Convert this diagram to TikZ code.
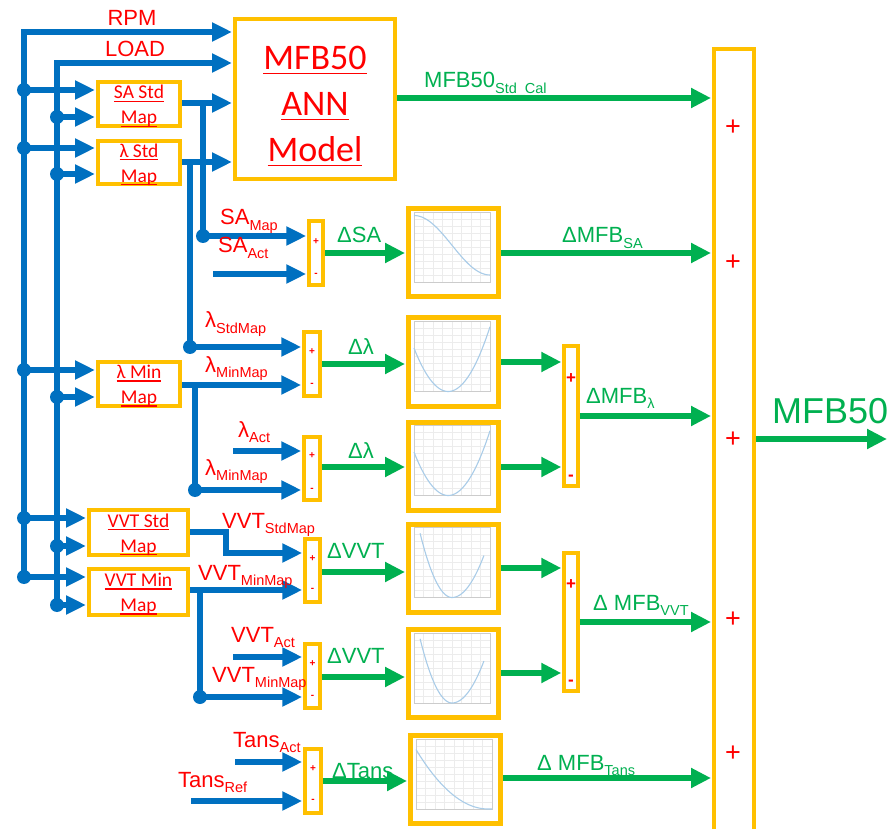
\documentclass[tikz,border=0pt]{standalone}
\usepackage{fontspec}
\setmainfont{Liberation Sans}
\newfontfamily\calfont{Carlito}
\usetikzlibrary{arrows.meta}
\definecolor{cblue}{HTML}{0070C0}
\definecolor{cgold}{HTML}{FFC000}
\definecolor{cred}{HTML}{FF0000}
\definecolor{cgreen}{HTML}{00B050}
\definecolor{ccurve}{HTML}{A9CCE8}
\newcommand\myul[2][1.8pt]{\vtop{\hbox{\raisebox{0pt}[\height][0pt]{#2}}\kern#1\hrule height 1.3pt}}
\newcommand\lsub[2]{#1\raisebox{-5.5pt}{\fontsize{14.5}{14.5}\selectfont #2}}
\newcommand\plotinside[3]{%
  \begin{scope}[shift={(#1.north west)}]
    \foreach \i in {0,...,8} \draw[gray!15,line width=0.5pt] ({8+9.5*\i},6) -- ({8+9.5*\i},76);
    \foreach \i in {0,...,10} \draw[gray!15,line width=0.5pt] (8,{6+7*\i}) -- (84,{6+7*\i});
    \draw[gray!40,line width=0.6pt] (8,6) rectangle (84,76);
    \draw[ccurve,line width=1.1pt] plot[domain=#2,samples=40,smooth] ({8+76*\x},{76-70*(#3)});
  \end{scope}}
\begin{document}
\begin{tikzpicture}[x=1pt,y=-1pt,
  blueline/.style={draw=cblue,line width=6pt},
  bluearr/.style={blueline,-{Triangle[length=20pt,width=18pt]},shorten >=1pt},
  greenarr/.style={draw=cgreen,line width=6pt,-{Triangle[length=20pt,width=19pt]},shorten >=1pt},
  jdot/.style={circle,fill=cblue,minimum size=14pt,inner sep=0pt},
  mapbox/.style={draw=cgold,line width=4pt,fill=white,inner sep=0pt},
  maptxt/.style={text=cred,align=center,inner sep=0pt,font=\calfont\fontsize{19.5}{25}\selectfont},
  sumbox/.style={draw=cgold,line width=3.5pt,fill=white,inner sep=0pt},
  plotbox/.style={draw=cgold,line width=5pt,fill=white,inner sep=0pt,minimum width=90pt,minimum height=88pt},
  rlbl/.style={text=cred,font=\fontsize{22}{22}\selectfont,inner sep=0pt,anchor=base west},
  glbl/.style={text=cgreen,font=\fontsize{22}{22}\selectfont,inner sep=0pt,anchor=base west},
  sgn/.style={text=cred,font=\bfseries\fontsize{10}{10}\selectfont,inner sep=0pt},
  midsgn/.style={text=cred,font=\bfseries\fontsize{17}{17}\selectfont,inner sep=0pt},
  bigsgn/.style={text=cred,font=\fontsize{27}{27}\selectfont,inner sep=0pt},
]
\useasboundingbox (0,0) rectangle (887,829);
\fill[white] (0,0) rectangle (887,829);

% ---------- boxes ----------
\node[mapbox,minimum width=160pt,minimum height=160pt] (ann) at (315,99) {};
\node[maptxt,font=\calfont\fontsize{36}{46}\selectfont] (anntxt) at (315,106) {\myul[3.5pt]{MFB50}\\\myul[3.5pt]{ANN}\\\myul[3.5pt]{Model}};
\node[mapbox,minimum width=82pt,minimum height=44pt] (sastd) at (139,104) {};
\node[maptxt] (sastdt) at (139,106) {\myul{SA Std}\\\myul{Map}};
\node[mapbox,minimum width=82pt,minimum height=43pt] (lstd) at (139,162.5) {};
\node[maptxt] (lstdt) at (139,164.5) {\myul{λ Std}\\\myul{Map}};
\node[mapbox,minimum width=82pt,minimum height=44pt] (lmin) at (139,384) {};
\node[maptxt] (lmint) at (139,386) {\myul{λ Min}\\\myul{Map}};
\node[mapbox,minimum width=99pt,minimum height=45pt] (vstd) at (138.5,532.5) {};
\node[maptxt] (vstdt) at (138.5,534.5) {\myul{VVT Std}\\\myul{Map}};
\node[mapbox,minimum width=99pt,minimum height=46pt] (vmin) at (138.5,592) {};
\node[maptxt] (vmint) at (138.5,594) {\myul{VVT Min}\\\myul{Map}};

\node[sumbox,minimum width=14pt,minimum height=64pt] (s1) at (316,253) {};
\node[sumbox,minimum width=16pt,minimum height=64pt] (s2) at (312,364) {};
\node[sumbox,minimum width=16pt,minimum height=63pt] (s3) at (312,468.5) {};
\node[sumbox,minimum width=14pt,minimum height=140pt] (s4) at (571,416) {};
\node[sumbox,minimum width=15pt,minimum height=63pt] (s5) at (312.5,570.5) {};
\node[sumbox,minimum width=15pt,minimum height=64pt] (s6) at (312.5,676) {};
\node[sumbox,minimum width=14pt,minimum height=138pt] (s7) at (571,622) {};
\node[sumbox,minimum width=16pt,minimum height=64pt] (s8) at (313,781) {};
\node[draw=cgold,line width=4pt,fill=white,inner sep=0pt,minimum width=40pt,minimum height=811pt] (big) at (734,454.5) {};

\node[plotbox] (p1) at (453.5,252.5) {};
\node[plotbox] (p2) at (453.5,362) {};
\node[plotbox] (p3) at (453.5,466) {};
\node[plotbox] (p4) at (453.5,568) {};
\node[plotbox] (p5) at (453.5,673.5) {};
\node[plotbox] (p6) at (455.5,779.5) {};
\plotinside{p1}{0:1}{0.1+0.85*(0.5+0.5*cos(180*\x))}
\plotinside{p2}{0:1}{3.06*(\x-0.45)*(\x-0.45)}
\plotinside{p3}{0:1}{3.06*(\x-0.45)*(\x-0.45)}
\plotinside{p4}{0.08:0.92}{(\x<0.5)*5.2*(\x-0.5)*(\x-0.5)+(\x>=0.5)*3.4*(\x-0.5)*(\x-0.5)}
\plotinside{p5}{0.08:0.92}{(\x<0.5)*5.2*(\x-0.5)*(\x-0.5)+(\x>=0.5)*3.4*(\x-0.5)*(\x-0.5)}
\plotinside{p6}{0:1}{0.85*max(0,1-\x/0.95)*max(0,1-\x/0.95)}

% ---------- bus lines ----------
\coordinate (b1top) at (24,32);
\coordinate (b1bot) at (24,578);
\coordinate (b2top) at (57,63);
\coordinate (b2bot) at (57,605);
\draw[bluearr] (b1bot) -- (b1top) -- (ann.west |- b1top);
\draw[bluearr] (b2bot) -- (b2top) -- (ann.west |- b2top);

\node[jdot] (j11) at (24,90) {};
\node[jdot] (j12) at (24,148) {};
\node[jdot] (j13) at (24,370) {};
\node[jdot] (j14) at (24,518) {};
\node[jdot] (j15) at (24,577) {};
\node[jdot] (j21) at (57,117) {};
\node[jdot] (j22) at (57,174) {};
\node[jdot] (j23) at (57,397) {};
\node[jdot] (j24) at (57,546) {};
\node[jdot] (j25) at (57,605) {};
\draw[bluearr] (j11.center) -- (sastd.west |- j11.center);
\draw[bluearr] (j21.center) -- (sastd.west |- j21.center);
\draw[bluearr] (j12.center) -- (lstd.west |- j12.center);
\draw[bluearr] (j22.center) -- (lstd.west |- j22.center);
\draw[bluearr] (j13.center) -- (lmin.west |- j13.center);
\draw[bluearr] (j23.center) -- (lmin.west |- j23.center);
\draw[bluearr] (j14.center) -- (vstd.west |- j14.center);
\draw[bluearr] (j24.center) -- (vstd.west |- j24.center);
\draw[bluearr] (j15.center) -- (vmin.west |- j15.center);
\draw[bluearr] (j25.center) -- (vmin.west |- j25.center);

% ---------- map outputs ----------
\draw[bluearr] (sastd.east |- 0,103) -- (ann.west |- 0,103);
\draw[bluearr] (lstd.east |- 0,162) -- (ann.west |- 0,162);
\coordinate (sat) at (203,103);
\node[jdot] (jsa) at (203,236) {};
\draw[blueline] (sat) -- (jsa.center);
\draw[bluearr] (jsa.center) -- (s1.west |- jsa.center);
\coordinate (sact) at (213,274);
\draw[bluearr] (sact) -- (s1.west |- sact);

\coordinate (lt) at (190,162);
\node[jdot] (jl1) at (190,347) {};
\draw[blueline] (lt) -- (jl1.center);
\draw[bluearr] (jl1.center) -- (s2.west |- jl1.center);
\draw[bluearr] (lmin.east |- 0,385) -- (s2.west |- 0,385);
\coordinate (lmt) at (195,385);
\node[jdot] (jl2) at (195,490) {};
\draw[blueline] (lmt) -- (jl2.center);
\draw[bluearr] (jl2.center) -- (s3.west |- jl2.center);
\coordinate (lact) at (233,451);
\draw[bluearr] (lact) -- (s3.west |- lact);

\coordinate (vk1) at (226,532);
\coordinate (vk2) at (226,553);
\draw[bluearr] (vstd.east |- vk1) -- (vk1) -- (vk2) -- (s5.west |- vk2);
\draw[bluearr] (vmin.east |- 0,590) -- (s5.west |- 0,590);
\coordinate (vmt) at (200,590);
\node[jdot] (jv2) at (200,697) {};
\draw[blueline] (vmt) -- (jv2.center);
\draw[bluearr] (jv2.center) -- (s6.west |- jv2.center);
\coordinate (vact) at (233,657);
\draw[bluearr] (vact) -- (s6.west |- vact);

\coordinate (tact) at (235,762);
\coordinate (tref) at (191,801);
\draw[bluearr] (tact) -- (s8.west |- tact);
\draw[bluearr] (tref) -- (s8.west |- tref);

% ---------- green connectors ----------
\draw[greenarr] (ann.east |- 0,98) -- (big.west |- 0,98);
\draw[greenarr] (s1.east |- 0,253) -- (p1.west |- 0,253);
\draw[greenarr] (p1.east |- 0,253) -- (big.west |- 0,253);
\draw[greenarr] (s2.east |- 0,364) -- (p2.west |- 0,364);
\draw[greenarr] (s3.east |- 0,467) -- (p3.west |- 0,467);
\draw[greenarr] (p2.east |- 0,362) -- (s4.west |- 0,362);
\draw[greenarr] (p3.east |- 0,467) -- (s4.west |- 0,467);
\draw[greenarr] (s4.east |- 0,416) -- (big.west |- 0,416);
\draw[greenarr] (s5.east |- 0,572) -- (p4.west |- 0,572);
\draw[greenarr] (s6.east |- 0,677) -- (p5.west |- 0,677);
\draw[greenarr] (p4.east |- 0,568) -- (s7.west |- 0,568);
\draw[greenarr] (p5.east |- 0,673) -- (s7.west |- 0,673);
\draw[greenarr] (s7.east |- 0,622) -- (big.west |- 0,622);
\draw[greenarr] (s8.east |- 0,781) -- (p6.west |- 0,781);
\draw[greenarr] (p6.east |- 0,778) -- (big.west |- 0,778);
\coordinate (out) at (887,439);
\draw[greenarr,shorten >=0pt] (big.east |- out) -- (out);

% ---------- labels ----------
\node[rlbl,anchor=base] (lrpm) at (132,26) {RPM};
\node[rlbl,anchor=base] (lload) at (135,57) {LOAD};
\node[rlbl] (lsam) at (220,225) {\lsub{SA}{Map}};
\node[rlbl] (lsaa) at (218,253) {\lsub{SA}{Act}};
\node[rlbl] (llsm) at (205,328) {\lsub{λ}{StdMap}};
\node[rlbl] (llmm) at (205,372) {\lsub{λ}{MinMap}};
\node[rlbl] (lla) at (238,437) {\lsub{λ}{Act}};
\node[rlbl] (llmm2) at (205,475) {\lsub{λ}{MinMap}};
\node[rlbl] (lvsm) at (222,528) {\lsub{VVT}{StdMap}};
\node[rlbl] (lvmm) at (198,580) {\lsub{VVT}{MinMap}};
\node[rlbl] (lva) at (231,642) {\lsub{VVT}{Act}};
\node[rlbl] (lvmm2) at (212,682) {\lsub{VVT}{MinMap}};
\node[rlbl] (lta) at (233,747) {\lsub{Tans}{Act}};
\node[rlbl] (ltr) at (178,787) {\lsub{Tans}{Ref}};

\node[glbl] (gcal) at (424,88) {\lsub{MFB50}{Std\_Cal}};
\node[glbl] (gdsa) at (337,243) {ΔSA};
\node[glbl] (gdl1) at (348,355) {Δλ};
\node[glbl] (gdl2) at (348,458) {Δλ};
\node[glbl] (gdv1) at (327,558) {ΔVVT};
\node[glbl] (gdv2) at (327,663) {ΔVVT};
\node[glbl] (gdt) at (332,778) {ΔTans};
\node[glbl] (gmsa) at (562,243) {\lsub{ΔMFB}{SA}};
\node[glbl] (gml) at (586,403) {\lsub{ΔMFB}{λ}};
\node[glbl] (gmv) at (593,610) {\lsub{Δ MFB}{VVT}};
\node[glbl] (gmt) at (537,770) {\lsub{Δ MFB}{Tans}};
\node[glbl,font=\fontsize{36}{36}\selectfont] (gout) at (772,423) {MFB50};

% ---------- signs ----------
\node[sgn] (g1p) at (316,242) {+};
\node[sgn] (g1m) at (316,275) {-};
\node[sgn] (g2p) at (312,352) {+};
\node[sgn] (g2m) at (312,385) {-};
\node[sgn] (g3p) at (312,456) {+};
\node[sgn] (g3m) at (312,490) {-};
\node[sgn] (g5p) at (312.5,559) {+};
\node[sgn] (g5m) at (312.5,590) {-};
\node[sgn] (g6p) at (312.5,664) {+};
\node[sgn] (g6m) at (312.5,697) {-};
\node[sgn] (g8p) at (313,769) {+};
\node[sgn] (g8m) at (313,801) {-};
\node[midsgn] (g4p) at (571,379) {+};
\node[midsgn] (g4m) at (571,478) {-};
\node[midsgn] (g7p) at (571,585) {+};
\node[midsgn] (g7m) at (571,683) {-};
\node[bigsgn] (bp1) at (733,128) {+};
\node[bigsgn] (bp2) at (733,263) {+};
\node[bigsgn] (bp3) at (733,440) {+};
\node[bigsgn] (bp4) at (733,620) {+};
\node[bigsgn] (bp5) at (733,754) {+};
\end{tikzpicture}
\end{document}
